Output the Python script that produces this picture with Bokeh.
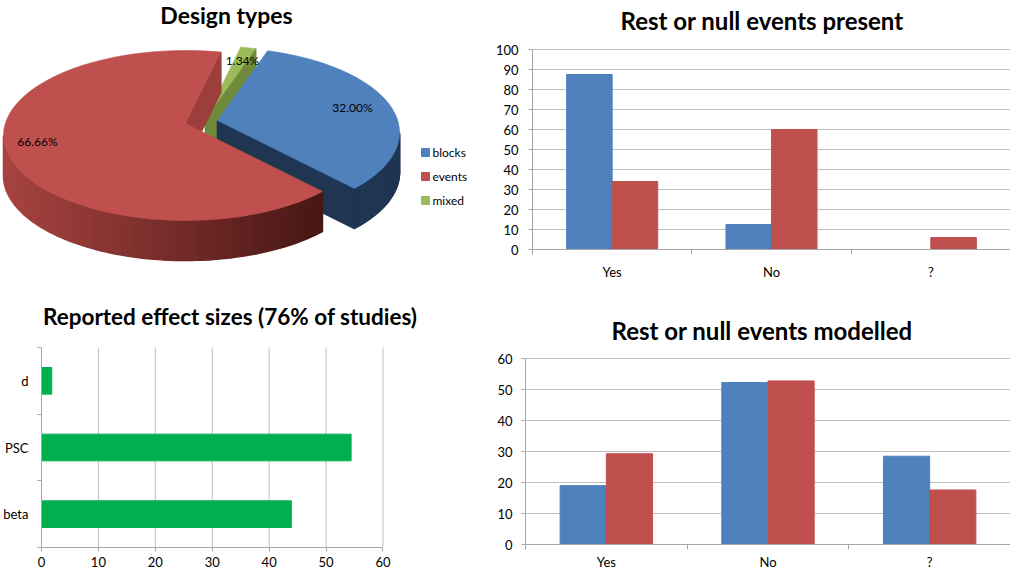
import numpy as np
from bokeh.plotting import figure
from bokeh.models import Range1d, FixedTicker
from bokeh.layouts import row, column
from bokeh.embed import file_html
from bokeh.resources import INLINE
from bokeh.core.properties import value

# ---------------- data ----------------
design_types = ["blocks", "events", "mixed"]
design_pct = [32.00, 66.66, 1.34]

present_cats = ["Yes", "No", "?"]
present_blue = [87.5, 12.5, 0.0]
present_red = [34.0, 60.0, 6.0]
present_ticks = list(range(0, 101, 10))

effect_cats = ["beta", "PSC", "d"]
effect_vals = [43.9, 54.4, 1.8]
effect_ticks = list(range(0, 61, 10))

modelled_cats = ["Yes", "No", "?"]
modelled_blue = [19.0, 52.3, 28.5]
modelled_red = [29.3, 52.8, 17.6]
modelled_ticks = list(range(0, 61, 10))

# ---------------- style ----------------
FONT = "Lato"
BLUE = "#4F81BD"
RED = "#C0504D"
GREEN = "#9BBB59"
BAR_GREEN = "#00B050"
GRID = "#BEBEBE"
AXIS = "#A6A6A6"
TICK_SIZE = "13px"

top_colors = {"blocks": BLUE, "events": RED, "mixed": GREEN}
face_colors = {"blocks": "#1F3552", "events": "#9C3E3B", "mixed": "#6F8A3A"}
explode = {"blocks": (32, -3), "events": (0, 0), "mixed": (20, -5)}
label_pos = {"blocks": (352, 107), "events": (37, 141), "mixed": (242, 60)}

# ---------------- pie (3D look) ----------------
CX, CY, RA, RB, DEPTH, VSHIFT, START = 185, 135, 182, 85, 40, -12, 16.0

p1 = figure(width=490, height=290, x_range=Range1d(0, 490), y_range=Range1d(290, 0),
            output_backend="svg", toolbar_location=None, min_border=0,
            x_axis_location=None, y_axis_location=None)
p1.grid.visible = False
p1.outline_line_color = None
p1.frame_align = False


def arc(t1, t2, ox, oy, dy=0.0, n=60):
    t = np.radians(np.linspace(t1, t2, n))
    return list(CX + ox + RA * np.sin(t)), list(CY + oy - RB * np.cos(t) + dy)


def side_color(name, tm):
    if name != "events":
        return face_colors[name]
    s = (np.sin(np.radians(tm)) + 1) / 1.75
    s = min(max(s, 0), 1)
    c0 = np.array([168, 68, 65])
    c1 = np.array([72, 23, 21])
    c = (c0 + (c1 - c0) * s).astype(int)
    return "#%02x%02x%02x" % tuple(c)


bounds = START + 3.6 * np.concatenate([[0], np.cumsum(design_pct)])
slices = {name: (bounds[i], bounds[i + 1]) for i, name in enumerate(design_types)}

for name in ["mixed", "blocks", "events"]:
    t1, t2 = slices[name]
    ox, oy = explode[name]
    vx, vy = CX + ox, CY + oy + VSHIFT
    xs, ys, cs = [], [], []
    for k in (0, 360):
        a, b = max(t1, 90 + k), min(t2, 270 + k)
        if b > a:
            edges = np.linspace(a, b, 41)
            for e0, e1 in zip(edges[:-1], edges[1:]):
                tx, ty = arc(e0, e1, ox, oy, 0, 3)
                bx, by = arc(e1, e0, ox, oy, DEPTH, 3)
                xs.append(tx + bx)
                ys.append(ty + by)
                cs.append(side_color(name, (e0 + e1) / 2))
    if np.sin(np.radians(t2)) > 0:
        ex, ey = arc(t2, t2, ox, oy, 0, 1)
        xs.append([vx, ex[0], ex[0], vx])
        ys.append([vy, ey[0], ey[0] + DEPTH, vy + DEPTH])
        cs.append(face_colors[name])
    if xs:
        p1.patches(xs, ys, fill_color=cs, line_color=cs, line_width=1.6)
    tx, ty = arc(t1, t2, ox, oy, 0, 80)
    p1.patch([vx] + tx, [vy] + ty, fill_color=top_colors[name], line_color=top_colors[name], line_width=0.6)

for name, pct in zip(design_types, design_pct):
    lx, ly = label_pos[name]
    p1.text(x=[lx], y=[ly], text=[f"{pct:.2f}%"], text_align="center", text_baseline="middle",
            text_font=value(FONT), text_font_size="12px", text_color="#000000")

p1.text(x=[226], y=[14], text=["Design types"], text_align="center", text_baseline="middle",
        text_font=value(FONT), text_font_size="23px", text_font_style="bold", text_color="#000000")

leg_y = [152, 176, 200]
p1.scatter(x=[425] * 3, y=leg_y, marker="square", size=8,
           color=[top_colors[n] for n in design_types])
p1.text(x=[432] * 3, y=leg_y, text=design_types, text_align="left", text_baseline="middle",
        text_font=value(FONT), text_font_size="12px", text_color="#000000")


# ---------------- helpers ----------------
# Each chart's frame reaches the top of its figure, so that its title can be a text
# glyph; the value range is extended by the title band and the axis is bounded.
def geometry(frame_px, value_px, vmax):
    """range end so that vmax sits value_px from the frame origin"""
    return vmax * frame_px / value_px


def style_axes(p):
    for ax in p.axis:
        ax.axis_line_color = AXIS
        ax.major_tick_line_color = AXIS
        ax.minor_tick_line_color = AXIS
        ax.major_label_text_font = FONT
        ax.major_label_text_font_size = TICK_SIZE
        ax.major_label_text_color = "#000000"
    p.outline_line_color = None
    p.frame_align = False


def add_title(p, text, x, y, size):
    p.text(x=[x], y=[y], text=[text], text_align="left", text_baseline="middle",
           text_font=value(FONT), text_font_size=size, text_font_style="bold", text_color="#000000")


def cat_ticker(n):
    centers = [i + 0.5 for i in range(n)]
    return centers, FixedTicker(ticks=centers, minor_ticks=list(range(n + 1)))


def column_chart(title, cats, blue, red, ticks, width, height, bl, bb, value_px, title_px,
                 title_left_px, xlab_stand, ylab_stand):
    vmax = ticks[-1]
    frame_h = height - bb
    frame_w = width - bl
    top = geometry(frame_h, value_px, vmax)
    n = len(cats)
    p = figure(width=width, height=height, x_range=Range1d(0, n), y_range=Range1d(0, top),
               output_backend="svg", toolbar_location=None,
               min_border_left=bl, min_border_right=0, min_border_top=0, min_border_bottom=bb)
    centers, tk = cat_ticker(n)
    bw = 1 / 3.5
    xb = [c - bw / 2 for c in centers]
    xr = [c + bw / 2 for c in centers]
    p.vbar(x=xb, top=blue, width=bw, bottom=0, fill_color=BLUE, line_color=BLUE)
    p.vbar(x=xr, top=red, width=bw, bottom=0, fill_color=RED, line_color=RED)
    p.xaxis.ticker = tk
    p.xaxis.major_label_overrides = {c: lab for c, lab in zip(centers, cats)}
    p.xaxis.major_tick_out = 0
    p.xaxis.minor_tick_out = 5
    p.xaxis.minor_tick_in = 0
    p.xaxis.major_label_standoff = xlab_stand
    p.yaxis.ticker = FixedTicker(ticks=ticks)
    p.yaxis.bounds = (0, vmax)
    p.yaxis.major_tick_out = 4
    p.yaxis.major_tick_in = 0
    p.yaxis.major_label_standoff = ylab_stand
    p.xgrid.visible = False
    p.ygrid.grid_line_color = GRID
    p.ygrid.ticker = p.yaxis.ticker
    style_axes(p)
    p.xaxis.major_tick_line_color = None
    p.yaxis.minor_tick_line_color = None
    add_title(p, title, n * title_left_px / frame_w, vmax * title_px / value_px, "24px")
    return p


p2 = column_chart("Rest or null events present", present_cats, present_blue, present_red,
                  present_ticks, 520, 290, 42, 41, 200, 229, 88, 9, 10)
p4 = column_chart("Rest or null events modelled", modelled_cats, modelled_blue, modelled_red,
                  modelled_ticks, 520, 282, 35, 21, 191, 220, 86, 4, 9)

# ---------------- horizontal bars ----------------
W3, H3, BB3, BL3 = 490, 282, 25, 39
VALUE_W3 = 343          # pixels from 0 to 60
ncat = len(effect_cats)
xmax = effect_ticks[-1]
top3 = geometry(H3 - BB3, 200, ncat)
right3 = geometry(W3 - BL3, VALUE_W3, xmax)
p3 = figure(width=W3, height=H3, x_range=Range1d(0, right3), y_range=Range1d(0, top3),
            output_backend="svg", toolbar_location=None,
            min_border_left=BL3, min_border_right=0, min_border_top=0, min_border_bottom=BB3)
centers, tk = cat_ticker(ncat)
# vertical gridlines, bounded to the category band
p3.segment(x0=effect_ticks, y0=[0] * len(effect_ticks), x1=effect_ticks, y1=[ncat] * len(effect_ticks),
           line_color=GRID, line_width=1)
p3.hbar(y=centers, right=effect_vals, left=0, height=0.4, fill_color=BAR_GREEN, line_color=BAR_GREEN)
p3.yaxis.ticker = tk
p3.yaxis.bounds = (0, ncat)
p3.yaxis.major_label_overrides = {c: lab for c, lab in zip(centers, effect_cats)}
p3.yaxis.major_tick_out = 0
p3.yaxis.minor_tick_out = 4
p3.yaxis.minor_tick_in = 0
p3.yaxis.major_label_standoff = 9
p3.xaxis.ticker = FixedTicker(ticks=effect_ticks)
p3.xaxis.bounds = (0, xmax)
p3.xaxis.major_tick_out = 4
p3.xaxis.major_tick_in = 0
p3.xaxis.major_label_standoff = 5
p3.grid.visible = False
style_axes(p3)
p3.yaxis.major_tick_line_color = None
p3.xaxis.minor_tick_line_color = None
add_title(p3, "Reported effect sizes (76% of studies)", xmax * 1.5 / VALUE_W3,
          ncat * 231 / 200, "22.5px")

layout = column(row(p1, p2), row(p3, p4))
open("out.html", "w").write(file_html(layout, INLINE))
